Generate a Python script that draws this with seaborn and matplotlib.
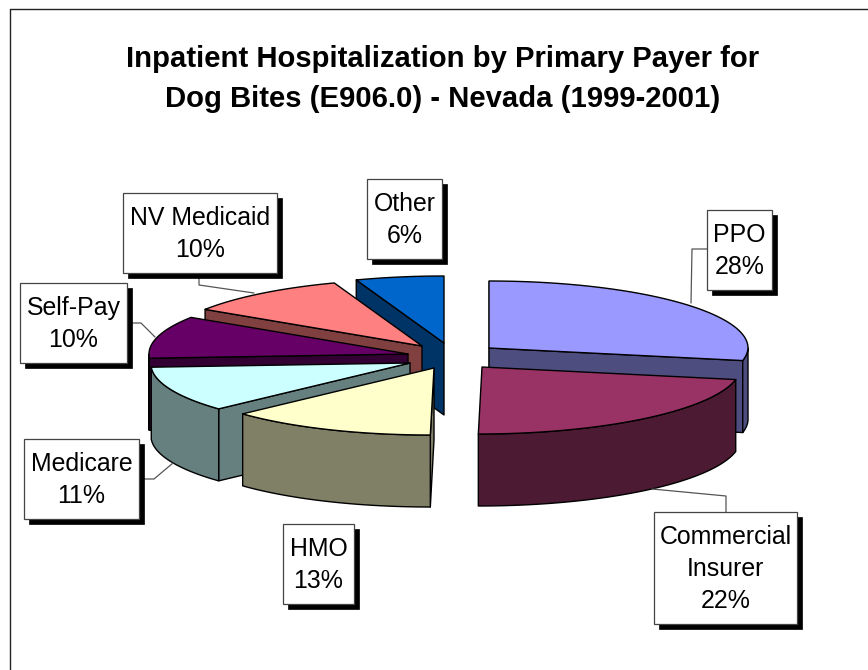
import numpy as np
import matplotlib
matplotlib.use("Agg")
import matplotlib.pyplot as plt
from matplotlib.patches import Polygon, Rectangle
import seaborn as sns

### data

payers = ["PPO", "Commercial\nInsurer", "HMO", "Medicare", "Self-Pay", "NV Medicaid", "Other"]
shares = [28, 22, 13, 11, 10.2, 10.3, 5.5]
top_colors = ["#9999FF", "#993366", "#FFFFCC", "#CCFFFF", "#660066", "#FF8080", "#0066CC"]
title_text = "Inpatient Hospitalization by Primary Payer for\nDog Bites (E906.0) - Nevada (1999-2001)"

### layout, all in pixels of the 868x670 image

rx, ry, depth = 259, 67, 72
skew = 0.055
# where each exploded slice has its tip
tips = [(489, 348), (482, 367), (434, 368), (410, 363), (408, 354), (422, 346), (444, 343)]
# label boxes: left, top, right, bottom
boxes = [(707, 210, 772, 290), (654, 512, 797, 624), (283, 524, 354, 604), (24, 439, 139, 519),
         (20, 283, 127, 363), (123, 193, 277, 273), (367, 179, 442, 259)]
leaders = [[(707, 249), (692, 249), (691, 303)],
           [(726, 512), (726, 496), (652, 489)],
           None,
           [(139, 479), (154, 479), (173, 463)],
           [(127, 323), (141, 323), (155, 337)],
           [(199, 273), (199, 285), (254, 293)],
           None]
draw_order = [6, 5, 4, 3, 2, 0, 1]

sns.set_theme(style="white")
plt.rcParams["font.family"] = ["Liberation Sans", "DejaVu Sans"]
palette = sns.color_palette(top_colors)

fig, ax = plt.subplots(figsize=(8.68, 6.70), dpi=100)
fig.subplots_adjust(0, 0, 1, 1)
ax.set_xlim(0, 868)
ax.set_ylim(670, 0)
ax.axis("off")


def rim(tip, angles):
    # clockwise degrees from 12 o'clock to points on the tilted rim
    a = np.radians(angles)
    dy = -ry * np.cos(a)
    x = tip[0] + rx * np.sin(a) - skew * np.maximum(dy, 0)
    return np.column_stack([x, tip[1] + dy])


def face(points, color, z):
    ax.add_patch(Polygon(points, closed=True, facecolor=color, edgecolor="black", lw=1.0, joinstyle="round", zorder=z))


edges = np.concatenate([[0], np.cumsum(shares)]) / np.sum(shares) * 360
drop = np.array([0, depth])

z = 2
for i in draw_order:
    start, end = edges[i], edges[i + 1]
    tip = tips[i]
    side = tuple(np.array(palette[i]) * 0.5)
    arc = rim(tip, np.linspace(start, end, 80))

    # cut faces that turn toward the viewer
    if np.sin(np.radians(start)) < 1e-6:
        p = np.array([tip, arc[0]])
        face(np.vstack([p, p[::-1] + drop]), side, z)
    if np.sin(np.radians(end)) > 1e-6:
        p = np.array([tip, arc[-1]])
        face(np.vstack([p, p[::-1] + drop]), side, z)

    # outer wall, only the front half of the rim shows
    lo, hi = max(start, 90), min(end, 270)
    if hi > lo:
        wall = rim(tip, np.linspace(lo, hi, 80))
        face(np.vstack([wall, wall[::-1] + drop]), side, z + 0.1)

    face(np.vstack([[tip], arc]), palette[i], z + 0.2)
    z += 1

# leader lines
for line in leaders:
    if line is not None:
        xs, ys = zip(*line)
        ax.plot(xs, ys, color="#555555", lw=0.9, zorder=20)

# label boxes with the hard drop shadow
for name, share, (x0, y0, x1, y1) in zip(payers, shares, boxes):
    ax.add_patch(Rectangle((x0 + 5, y0 + 5), x1 - x0, y1 - y0, facecolor="black", edgecolor="black", lw=0.5, zorder=21))
    ax.add_patch(Rectangle((x0, y0), x1 - x0, y1 - y0, facecolor="white", edgecolor="#444444", lw=0.9, zorder=22))
    ax.text((x0 + x1) / 2, (y0 + y1) / 2 + 1, "{}\n{:.0f}%".format(name, share), ha="center", va="center",
            fontsize=17.9, color="black", linespacing=1.4, zorder=23)

ax.text(443, 79, title_text, ha="center", va="center", fontsize=21.1, fontweight="bold", color="black", linespacing=1.57)

# chart frame, right and bottom run off the image
ax.plot([10, 10], [670, 9], color="#222222", lw=1.0, zorder=1)
ax.plot([10, 868], [9, 9], color="#222222", lw=1.0, zorder=1)

plt.savefig("out.png", dpi=100)
